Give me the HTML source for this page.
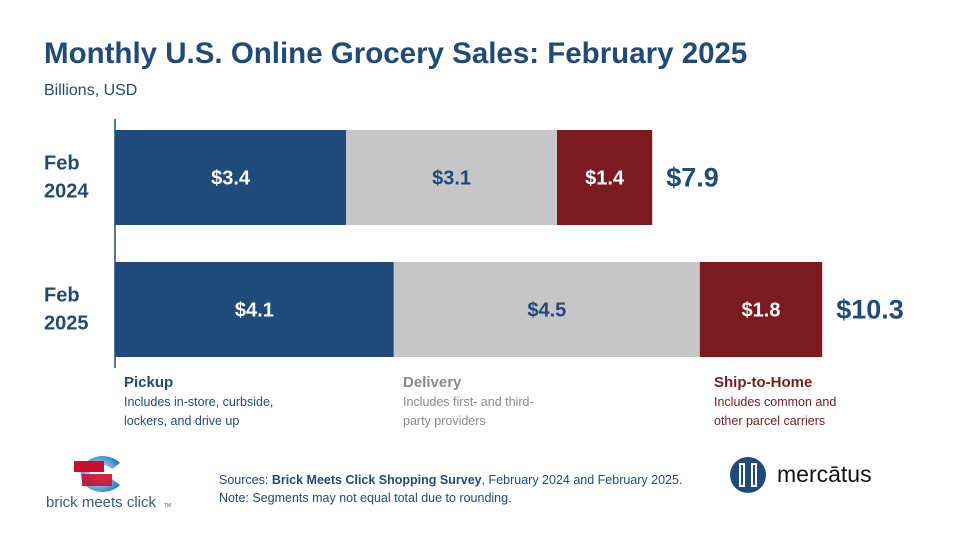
<!DOCTYPE html>
<html><head><meta charset="utf-8"><style>
body{margin:0;width:960px;height:540px;background:#fff;font-family:"Liberation Sans",sans-serif;position:relative;overflow:hidden}
.abs{position:absolute}
</style></head><body>
<div class="abs" style="left:44px;top:37px;font-size:29.5px;font-weight:bold;color:#1F4A7C;letter-spacing:0px">Monthly U.S. Online Grocery Sales: February 2025</div>
<div class="abs" style="left:44px;top:82px;font-size:16px;color:#1F4A7C">Billions, USD</div>
<svg id="chart" class="abs" style="left:0;top:0" width="960" height="540"></svg>

<div class="abs" style="left:124px;top:374px;color:#1F4A7C">
<div style="font-size:15px;font-weight:bold">Pickup</div>
<div style="font-size:12.5px;line-height:19px;margin-top:2px">Includes in-store, curbside,<br>lockers, and drive up</div></div>
<div class="abs" style="left:403px;top:374px;color:#8a8a8a">
<div style="font-size:15px;font-weight:bold">Delivery</div>
<div style="font-size:12.5px;line-height:19px;margin-top:2px">Includes first- and third-<br>party providers</div></div>
<div class="abs" style="left:714px;top:374px;color:#7B1A1F">
<div style="font-size:15px;font-weight:bold">Ship-to-Home</div>
<div style="font-size:12.5px;line-height:19px;margin-top:2px">Includes common and<br>other parcel carriers</div></div>

<div class="abs" style="left:219px;top:471px;font-size:12.5px;line-height:18px;color:#1F4A7C">Sources: <b>Brick Meets Click Shopping Survey</b>, February 2024 and February 2025.<br>Note: Segments may not equal total due to rounding.</div>

<svg class="abs" style="left:40px;top:455px" width="150" height="60">
<defs><radialGradient id="g" cx="0.45" cy="0.5" r="0.6"><stop offset="0" stop-color="#fff"/><stop offset="1" stop-color="#1a7cc4"/></radialGradient></defs>
<path d="M80 8 A22 18 0 1 0 80 30 L72 24 A12 9 0 1 1 72 14 Z" fill="url(#g)"/>
<rect x="34" y="6" width="30" height="11" fill="#c8102e"/><rect x="42" y="19" width="30" height="12" fill="#c8102e" opacity="0.9"/>
<text x="6" y="52" font-size="15" fill="#3b5a80" font-family="Liberation Sans">brick meets click</text><text x="124" y="52" font-size="5" fill="#3b5a80">TM</text>
</svg>
<svg class="abs" style="left:728px;top:455px" width="180" height="40">
<circle cx="20" cy="20" r="18" fill="#1F4A7C"/>
<rect x="11" y="8" width="6" height="24" fill="#fff"/><rect x="23" y="8" width="6" height="24" fill="#fff"/>
<rect x="13" y="10" width="2" height="20" fill="#1F4A7C"/><rect x="25" y="10" width="2" height="20" fill="#1F4A7C"/>
<text x="49" y="27" font-size="23" fill="#111" font-family="Liberation Sans">mercātus</text>
</svg>

<script>
const categories=["Feb 2024","Feb 2025"];
const pickup=[3.4,4.1];
const delivery=[3.1,4.5];
const shipToHome=[1.4,1.8];
const totals=[7.9,10.3];
const svg=document.getElementById('chart');
const NS='http://www.w3.org/2000/svg';
const x0=115,scale=68;
const xPos=v=>x0+v*scale;
const barY=[130,262],barH=95;
function mk(t,a){const e=document.createElementNS(NS,t);for(const k in a)e.setAttribute(k,a[k]);svg.appendChild(e);return e;}
const segs=[[pickup,'#1F4A7C','#fff','pickup'],[delivery,'#C6C6C6','#1F4A7C','delivery'],[shipToHome,'#7B1A1F','#fff','ship-to-home']];
categories.forEach((c,i)=>{
  let acc=0;
  segs.forEach(s=>{
    const v=s[0][i];
    const r=mk('rect',{x:xPos(acc),y:barY[i],width:v*scale,height:barH,fill:s[1]});
    
    
    const t=mk('text',{x:xPos(acc+v/2),y:barY[i]+barH/2+7,'text-anchor':'middle','font-size':20,'font-weight':'bold',fill:s[2]});
    t.textContent='$'+v.toFixed(1);
    
    
    acc+=v;
  });
  const tt=mk('text',{x:xPos(acc)+14,y:barY[i]+barH/2+9,'font-size':27,'font-weight':'bold',fill:'#1F4A7C'});
  tt.textContent='$'+totals[i].toFixed(1);
  
  
  const parts=c.split(' ');
  parts.forEach((p,j)=>{
    const l=mk('text',{x:44,y:barY[i]+barH/2-8+j*28,'font-size':20,'font-weight':'bold',fill:'#1F4A7C'});
    l.textContent=p;
    
    
  });
});
const ax=mk('line',{x1:x0,x2:x0,y1:119,y2:368,stroke:'#1F4A7C','stroke-width':1.5});


</script>
</body></html>
